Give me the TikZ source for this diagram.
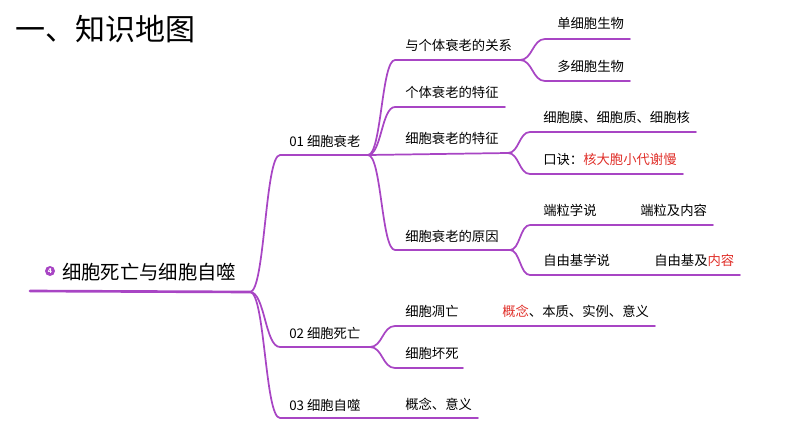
\documentclass[tikz,border=0pt]{standalone}
\usepackage{fontspec}
\setmainfont{Noto Sans CJK SC}
\usetikzlibrary{calc}
\definecolor{branch}{HTML}{A845C4}
\definecolor{hint}{HTML}{E0302A}
\begin{document}
\begin{tikzpicture}[x=0.75pt,y=-0.75pt,line cap=round]
        \tikzstyle{link} = [draw=branch, line width=1.3pt, to path={.. controls ($(\tikztostart)!0.5!(\tikztotarget|-\tikztostart)$) and ($(\tikztotarget)!0.5!(\tikztostart|-\tikztotarget)$) .. (\tikztotarget)}]
        \tikzstyle{leaf} = [anchor=base west, inner sep=0pt, font=\fontsize{10}{12}\selectfont]
        \useasboundingbox (0,0) rectangle (794,447);
        %Title and root
        \node [anchor=base west, inner sep=0pt, font=\fontsize{22.5}{26}\selectfont] (title) at (15,40) {一、知识地图};
        \node [circle, fill=branch, text=white, inner sep=0pt, minimum size=7.5pt, font=\fontsize{5}{6}\selectfont\bfseries] (badge) at (50,271) {4};
        \node [anchor=base west, inner sep=0pt, font=\fontsize{14.5}{17}\selectfont] (root) at (62,279) {细胞死亡与细胞自噬};
        %Level 1
        \node [leaf] (aging) at (289,146) {01 细胞衰老};
        \node [leaf] (death) at (289,338) {02 细胞死亡};
        \node [leaf] (auto) at (289,410) {03 细胞自噬};
        %Level 2
        \node [leaf] (relation) at (405,50) {与个体衰老的关系};
        \node [leaf] (bodyfeat) at (405,97) {个体衰老的特征};
        \node [leaf] (cellfeat) at (405,143) {细胞衰老的特征};
        \node [leaf] (cause) at (405,241) {细胞衰老的原因};
        \node [leaf] (apoptosis) at (405,316) {细胞凋亡};
        \node [leaf] (necrosis) at (405,358) {细胞坏死};
        \node [leaf] (autocont) at (405,409) {概念、意义};
        %Level 3
        \node [leaf] (single) at (557,28) {单细胞生物};
        \node [leaf] (multi) at (557,71) {多细胞生物};
        \node [leaf] (parts) at (543,122) {细胞膜、细胞质、细胞核};
        \node [leaf] (rhyme) at (543,164) {口诀：\textcolor{hint}{核大胞小代谢慢}};
        \node [leaf] (telo) at (543,215) {端粒学说};
        \node [leaf] (telocont) at (640,215) {端粒及内容};
        \node [leaf] (radical) at (543,265) {自由基学说};
        \node [leaf] (radcont) at (654,265) {自由基及\textcolor{hint}{内容}};
        \node [leaf] (apocont) at (502,316) {\textcolor{hint}{概念}、本质、实例、意义};
        %Underline points
        \coordinate (r0) at (30,291); \coordinate (r1) at (250,292);
        \coordinate (a0) at (280,155); \coordinate (a1) at (368,155);
        \coordinate (d0) at (280,347); \coordinate (d1) at (370,347);
        \coordinate (s0) at (280,418); \coordinate (s1) at (478,418);
        \coordinate (rel0) at (395,60); \coordinate (rel1) at (520,60);
        \coordinate (bf0) at (395,107); \coordinate (bf1) at (505,107);
        \coordinate (cf1) at (508,153);
        \coordinate (ca0) at (395,250); \coordinate (ca1) at (510,250);
        \coordinate (ap0) at (395,326); \coordinate (ap1) at (655,326);
        \coordinate (ne0) at (395,368); \coordinate (ne1) at (463,368);
        \coordinate (si0) at (545,39); \coordinate (si1) at (630,39);
        \coordinate (mu0) at (545,81); \coordinate (mu1) at (630,81);
        \coordinate (pa0) at (530,132); \coordinate (pa1) at (696,132);
        \coordinate (rh0) at (530,174); \coordinate (rh1) at (683,174);
        \coordinate (te0) at (530,225); \coordinate (te1) at (713,225);
        \coordinate (ra0) at (530,275); \coordinate (ra1) at (740,275);
        %Connecting branches
        \begin{scope}[link]
            \draw [line width=2pt] (r0) -- (r1);
            \draw (r1) to (a0) -- (a1);
            \draw (r1) to (d0) -- (d1);
            \draw (r1) to (s0) -- (s1);
            \draw (a1) to (rel0) -- (rel1);
            \draw (a1) to (bf0) -- (bf1);
            \draw (a1) -- (cf1);
            \draw (a1) to (ca0) -- (ca1);
            \draw (rel1) to (si0) -- (si1);
            \draw (rel1) to (mu0) -- (mu1);
            \draw (cf1) to (pa0) -- (pa1);
            \draw (cf1) to (rh0) -- (rh1);
            \draw (ca1) to (te0) -- (te1);
            \draw (ca1) to (ra0) -- (ra1);
            \draw (d1) to (ap0) -- (ap1);
            \draw (d1) to (ne0) -- (ne1);
        \end{scope}
    \end{tikzpicture}
\end{document}
